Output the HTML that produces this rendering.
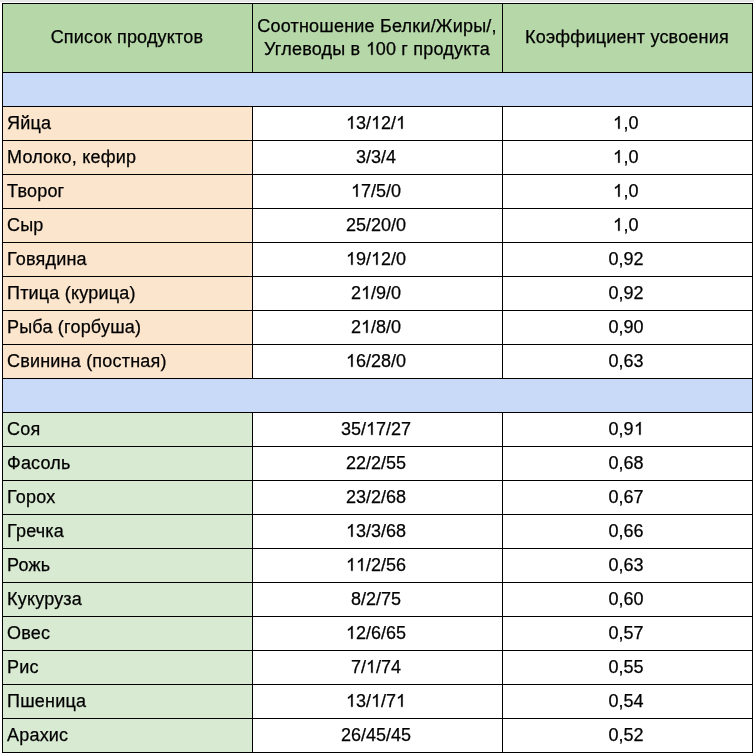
<!DOCTYPE html>
<html><head><meta charset="utf-8"><style>
html,body{margin:0;padding:0;background:#fff;}
body{width:754px;height:754px;position:relative;overflow:hidden;font-family:"Liberation Sans",sans-serif;color:#000;}
.a{position:absolute;}
.h{position:absolute;height:1px;background:#000;}
.v{position:absolute;width:1px;background:#000;}
.t{position:absolute;font-size:18px;line-height:34px;height:34px;white-space:nowrap;letter-spacing:0.2px;will-change:transform;-webkit-text-stroke:0.25px #000;}
.c{text-align:center;width:250px;}
.n{letter-spacing:0;}
.n .d1{margin-right:0;}
.d1{display:inline-block;position:relative;width:0.5562em;height:0.7158em;margin-right:0.2px;}
.d1 svg{position:absolute;left:0;bottom:0;width:100%;height:100%;overflow:visible;}
</style></head><body>

<div class="a" style="left:0;top:0;width:754px;height:2px;background:#e6e6e9"></div>
<div class="a" style="left:2px;top:3px;width:750px;height:69px;background:#b6d7a8"></div>
<div class="a" style="left:2px;top:72px;width:750px;height:34px;background:#c9daf8"></div>
<div class="a" style="left:2px;top:106px;width:250px;height:34px;background:#fce5cd"></div>
<div class="a" style="left:2px;top:140px;width:250px;height:34px;background:#fce5cd"></div>
<div class="a" style="left:2px;top:174px;width:250px;height:34px;background:#fce5cd"></div>
<div class="a" style="left:2px;top:208px;width:250px;height:34px;background:#fce5cd"></div>
<div class="a" style="left:2px;top:242px;width:250px;height:34px;background:#fce5cd"></div>
<div class="a" style="left:2px;top:276px;width:250px;height:34px;background:#fce5cd"></div>
<div class="a" style="left:2px;top:310px;width:250px;height:34px;background:#fce5cd"></div>
<div class="a" style="left:2px;top:344px;width:250px;height:34px;background:#fce5cd"></div>
<div class="a" style="left:2px;top:378px;width:750px;height:34px;background:#c9daf8"></div>
<div class="a" style="left:2px;top:412px;width:250px;height:34px;background:#d9ead3"></div>
<div class="a" style="left:2px;top:446px;width:250px;height:34px;background:#d9ead3"></div>
<div class="a" style="left:2px;top:480px;width:250px;height:34px;background:#d9ead3"></div>
<div class="a" style="left:2px;top:514px;width:250px;height:34px;background:#d9ead3"></div>
<div class="a" style="left:2px;top:548px;width:250px;height:34px;background:#d9ead3"></div>
<div class="a" style="left:2px;top:582px;width:250px;height:34px;background:#d9ead3"></div>
<div class="a" style="left:2px;top:616px;width:250px;height:34px;background:#d9ead3"></div>
<div class="a" style="left:2px;top:650px;width:250px;height:34px;background:#d9ead3"></div>
<div class="a" style="left:2px;top:684px;width:250px;height:34px;background:#d9ead3"></div>
<div class="a" style="left:2px;top:718px;width:250px;height:34px;background:#d9ead3"></div>
<div class="h" style="left:2px;top:3px;width:751px"></div>
<div class="h" style="left:2px;top:72px;width:751px"></div>
<div class="h" style="left:2px;top:106px;width:751px"></div>
<div class="h" style="left:2px;top:140px;width:751px"></div>
<div class="h" style="left:2px;top:174px;width:751px"></div>
<div class="h" style="left:2px;top:208px;width:751px"></div>
<div class="h" style="left:2px;top:242px;width:751px"></div>
<div class="h" style="left:2px;top:276px;width:751px"></div>
<div class="h" style="left:2px;top:310px;width:751px"></div>
<div class="h" style="left:2px;top:344px;width:751px"></div>
<div class="h" style="left:2px;top:378px;width:751px"></div>
<div class="h" style="left:2px;top:412px;width:751px"></div>
<div class="h" style="left:2px;top:446px;width:751px"></div>
<div class="h" style="left:2px;top:480px;width:751px"></div>
<div class="h" style="left:2px;top:514px;width:751px"></div>
<div class="h" style="left:2px;top:548px;width:751px"></div>
<div class="h" style="left:2px;top:582px;width:751px"></div>
<div class="h" style="left:2px;top:616px;width:751px"></div>
<div class="h" style="left:2px;top:650px;width:751px"></div>
<div class="h" style="left:2px;top:684px;width:751px"></div>
<div class="h" style="left:2px;top:718px;width:751px"></div>
<div class="h" style="left:2px;top:752px;width:751px"></div>
<div class="v" style="left:2px;top:3px;height:750px"></div>
<div class="v" style="left:752px;top:3px;height:750px"></div>
<div class="v" style="left:252px;top:3px;height:70px"></div>
<div class="v" style="left:252px;top:106px;height:273px"></div>
<div class="v" style="left:252px;top:412px;height:341px"></div>
<div class="v" style="left:502px;top:3px;height:70px"></div>
<div class="v" style="left:502px;top:106px;height:273px"></div>
<div class="v" style="left:502px;top:412px;height:341px"></div>
<div class="t c" style="left:2px;top:20px">Список продуктов</div>
<div class="t c" style="left:252px;top:14.5px;line-height:23px;height:46px;white-space:normal">Соотношение Белки/Жиры/,<br>Углеводы в <span class="d1"><svg viewBox="0 -1466 1139 1466"><path d="M763 0L583 0L583 -1147C540 -1106 483 -1064 413 -1023C343 -982 280 -952 223 -932L223 -1106C323 -1153 410 -1210 485 -1277C560 -1344 613 -1407 644 -1466L763 -1466Z" fill="#000" stroke="#000" stroke-width="28"/></svg></span>00 г продукта</div>
<div class="t c" style="left:502px;top:20px">Коэффициент усвоения</div>
<div class="t" style="left:7px;top:106px">Яйца</div>
<div class="t c n" style="left:251px;top:106px"><span class="d1"><svg viewBox="0 -1466 1139 1466"><path d="M763 0L583 0L583 -1147C540 -1106 483 -1064 413 -1023C343 -982 280 -952 223 -932L223 -1106C323 -1153 410 -1210 485 -1277C560 -1344 613 -1407 644 -1466L763 -1466Z" fill="#000" stroke="#000" stroke-width="28"/></svg></span>3/<span class="d1"><svg viewBox="0 -1466 1139 1466"><path d="M763 0L583 0L583 -1147C540 -1106 483 -1064 413 -1023C343 -982 280 -952 223 -932L223 -1106C323 -1153 410 -1210 485 -1277C560 -1344 613 -1407 644 -1466L763 -1466Z" fill="#000" stroke="#000" stroke-width="28"/></svg></span>2/<span class="d1"><svg viewBox="0 -1466 1139 1466"><path d="M763 0L583 0L583 -1147C540 -1106 483 -1064 413 -1023C343 -982 280 -952 223 -932L223 -1106C323 -1153 410 -1210 485 -1277C560 -1344 613 -1407 644 -1466L763 -1466Z" fill="#000" stroke="#000" stroke-width="28"/></svg></span></div>
<div class="t c n" style="left:501px;top:106px"><span class="d1"><svg viewBox="0 -1466 1139 1466"><path d="M763 0L583 0L583 -1147C540 -1106 483 -1064 413 -1023C343 -982 280 -952 223 -932L223 -1106C323 -1153 410 -1210 485 -1277C560 -1344 613 -1407 644 -1466L763 -1466Z" fill="#000" stroke="#000" stroke-width="28"/></svg></span>,0</div>
<div class="t" style="left:7px;top:140px">Молоко, кефир</div>
<div class="t c n" style="left:251px;top:140px">3/3/4</div>
<div class="t c n" style="left:501px;top:140px"><span class="d1"><svg viewBox="0 -1466 1139 1466"><path d="M763 0L583 0L583 -1147C540 -1106 483 -1064 413 -1023C343 -982 280 -952 223 -932L223 -1106C323 -1153 410 -1210 485 -1277C560 -1344 613 -1407 644 -1466L763 -1466Z" fill="#000" stroke="#000" stroke-width="28"/></svg></span>,0</div>
<div class="t" style="left:7px;top:174px">Творог</div>
<div class="t c n" style="left:251px;top:174px"><span class="d1"><svg viewBox="0 -1466 1139 1466"><path d="M763 0L583 0L583 -1147C540 -1106 483 -1064 413 -1023C343 -982 280 -952 223 -932L223 -1106C323 -1153 410 -1210 485 -1277C560 -1344 613 -1407 644 -1466L763 -1466Z" fill="#000" stroke="#000" stroke-width="28"/></svg></span>7/5/0</div>
<div class="t c n" style="left:501px;top:174px"><span class="d1"><svg viewBox="0 -1466 1139 1466"><path d="M763 0L583 0L583 -1147C540 -1106 483 -1064 413 -1023C343 -982 280 -952 223 -932L223 -1106C323 -1153 410 -1210 485 -1277C560 -1344 613 -1407 644 -1466L763 -1466Z" fill="#000" stroke="#000" stroke-width="28"/></svg></span>,0</div>
<div class="t" style="left:7px;top:208px">Сыр</div>
<div class="t c n" style="left:251px;top:208px">25/20/0</div>
<div class="t c n" style="left:501px;top:208px"><span class="d1"><svg viewBox="0 -1466 1139 1466"><path d="M763 0L583 0L583 -1147C540 -1106 483 -1064 413 -1023C343 -982 280 -952 223 -932L223 -1106C323 -1153 410 -1210 485 -1277C560 -1344 613 -1407 644 -1466L763 -1466Z" fill="#000" stroke="#000" stroke-width="28"/></svg></span>,0</div>
<div class="t" style="left:7px;top:242px">Говядина</div>
<div class="t c n" style="left:251px;top:242px"><span class="d1"><svg viewBox="0 -1466 1139 1466"><path d="M763 0L583 0L583 -1147C540 -1106 483 -1064 413 -1023C343 -982 280 -952 223 -932L223 -1106C323 -1153 410 -1210 485 -1277C560 -1344 613 -1407 644 -1466L763 -1466Z" fill="#000" stroke="#000" stroke-width="28"/></svg></span>9/<span class="d1"><svg viewBox="0 -1466 1139 1466"><path d="M763 0L583 0L583 -1147C540 -1106 483 -1064 413 -1023C343 -982 280 -952 223 -932L223 -1106C323 -1153 410 -1210 485 -1277C560 -1344 613 -1407 644 -1466L763 -1466Z" fill="#000" stroke="#000" stroke-width="28"/></svg></span>2/0</div>
<div class="t c n" style="left:501px;top:242px">0,92</div>
<div class="t" style="left:7px;top:276px">Птица (курица)</div>
<div class="t c n" style="left:251px;top:276px">2<span class="d1"><svg viewBox="0 -1466 1139 1466"><path d="M763 0L583 0L583 -1147C540 -1106 483 -1064 413 -1023C343 -982 280 -952 223 -932L223 -1106C323 -1153 410 -1210 485 -1277C560 -1344 613 -1407 644 -1466L763 -1466Z" fill="#000" stroke="#000" stroke-width="28"/></svg></span>/9/0</div>
<div class="t c n" style="left:501px;top:276px">0,92</div>
<div class="t" style="left:7px;top:310px">Рыба (горбуша)</div>
<div class="t c n" style="left:251px;top:310px">2<span class="d1"><svg viewBox="0 -1466 1139 1466"><path d="M763 0L583 0L583 -1147C540 -1106 483 -1064 413 -1023C343 -982 280 -952 223 -932L223 -1106C323 -1153 410 -1210 485 -1277C560 -1344 613 -1407 644 -1466L763 -1466Z" fill="#000" stroke="#000" stroke-width="28"/></svg></span>/8/0</div>
<div class="t c n" style="left:501px;top:310px">0,90</div>
<div class="t" style="left:7px;top:344px">Свинина (постная)</div>
<div class="t c n" style="left:251px;top:344px"><span class="d1"><svg viewBox="0 -1466 1139 1466"><path d="M763 0L583 0L583 -1147C540 -1106 483 -1064 413 -1023C343 -982 280 -952 223 -932L223 -1106C323 -1153 410 -1210 485 -1277C560 -1344 613 -1407 644 -1466L763 -1466Z" fill="#000" stroke="#000" stroke-width="28"/></svg></span>6/28/0</div>
<div class="t c n" style="left:501px;top:344px">0,63</div>
<div class="t" style="left:7px;top:412px">Соя</div>
<div class="t c n" style="left:251px;top:412px">35/<span class="d1"><svg viewBox="0 -1466 1139 1466"><path d="M763 0L583 0L583 -1147C540 -1106 483 -1064 413 -1023C343 -982 280 -952 223 -932L223 -1106C323 -1153 410 -1210 485 -1277C560 -1344 613 -1407 644 -1466L763 -1466Z" fill="#000" stroke="#000" stroke-width="28"/></svg></span>7/27</div>
<div class="t c n" style="left:501px;top:412px">0,9<span class="d1"><svg viewBox="0 -1466 1139 1466"><path d="M763 0L583 0L583 -1147C540 -1106 483 -1064 413 -1023C343 -982 280 -952 223 -932L223 -1106C323 -1153 410 -1210 485 -1277C560 -1344 613 -1407 644 -1466L763 -1466Z" fill="#000" stroke="#000" stroke-width="28"/></svg></span></div>
<div class="t" style="left:7px;top:446px">Фасоль</div>
<div class="t c n" style="left:251px;top:446px">22/2/55</div>
<div class="t c n" style="left:501px;top:446px">0,68</div>
<div class="t" style="left:7px;top:480px">Горох</div>
<div class="t c n" style="left:251px;top:480px">23/2/68</div>
<div class="t c n" style="left:501px;top:480px">0,67</div>
<div class="t" style="left:7px;top:514px">Гречка</div>
<div class="t c n" style="left:251px;top:514px"><span class="d1"><svg viewBox="0 -1466 1139 1466"><path d="M763 0L583 0L583 -1147C540 -1106 483 -1064 413 -1023C343 -982 280 -952 223 -932L223 -1106C323 -1153 410 -1210 485 -1277C560 -1344 613 -1407 644 -1466L763 -1466Z" fill="#000" stroke="#000" stroke-width="28"/></svg></span>3/3/68</div>
<div class="t c n" style="left:501px;top:514px">0,66</div>
<div class="t" style="left:7px;top:548px">Рожь</div>
<div class="t c n" style="left:251px;top:548px"><span class="d1"><svg viewBox="0 -1466 1139 1466"><path d="M763 0L583 0L583 -1147C540 -1106 483 -1064 413 -1023C343 -982 280 -952 223 -932L223 -1106C323 -1153 410 -1210 485 -1277C560 -1344 613 -1407 644 -1466L763 -1466Z" fill="#000" stroke="#000" stroke-width="28"/></svg></span><span class="d1"><svg viewBox="0 -1466 1139 1466"><path d="M763 0L583 0L583 -1147C540 -1106 483 -1064 413 -1023C343 -982 280 -952 223 -932L223 -1106C323 -1153 410 -1210 485 -1277C560 -1344 613 -1407 644 -1466L763 -1466Z" fill="#000" stroke="#000" stroke-width="28"/></svg></span>/2/56</div>
<div class="t c n" style="left:501px;top:548px">0,63</div>
<div class="t" style="left:7px;top:582px">Кукуруза</div>
<div class="t c n" style="left:251px;top:582px">8/2/75</div>
<div class="t c n" style="left:501px;top:582px">0,60</div>
<div class="t" style="left:7px;top:616px">Овес</div>
<div class="t c n" style="left:251px;top:616px"><span class="d1"><svg viewBox="0 -1466 1139 1466"><path d="M763 0L583 0L583 -1147C540 -1106 483 -1064 413 -1023C343 -982 280 -952 223 -932L223 -1106C323 -1153 410 -1210 485 -1277C560 -1344 613 -1407 644 -1466L763 -1466Z" fill="#000" stroke="#000" stroke-width="28"/></svg></span>2/6/65</div>
<div class="t c n" style="left:501px;top:616px">0,57</div>
<div class="t" style="left:7px;top:650px">Рис</div>
<div class="t c n" style="left:251px;top:650px">7/<span class="d1"><svg viewBox="0 -1466 1139 1466"><path d="M763 0L583 0L583 -1147C540 -1106 483 -1064 413 -1023C343 -982 280 -952 223 -932L223 -1106C323 -1153 410 -1210 485 -1277C560 -1344 613 -1407 644 -1466L763 -1466Z" fill="#000" stroke="#000" stroke-width="28"/></svg></span>/74</div>
<div class="t c n" style="left:501px;top:650px">0,55</div>
<div class="t" style="left:7px;top:684px">Пшеница</div>
<div class="t c n" style="left:251px;top:684px"><span class="d1"><svg viewBox="0 -1466 1139 1466"><path d="M763 0L583 0L583 -1147C540 -1106 483 -1064 413 -1023C343 -982 280 -952 223 -932L223 -1106C323 -1153 410 -1210 485 -1277C560 -1344 613 -1407 644 -1466L763 -1466Z" fill="#000" stroke="#000" stroke-width="28"/></svg></span>3/<span class="d1"><svg viewBox="0 -1466 1139 1466"><path d="M763 0L583 0L583 -1147C540 -1106 483 -1064 413 -1023C343 -982 280 -952 223 -932L223 -1106C323 -1153 410 -1210 485 -1277C560 -1344 613 -1407 644 -1466L763 -1466Z" fill="#000" stroke="#000" stroke-width="28"/></svg></span>/7<span class="d1"><svg viewBox="0 -1466 1139 1466"><path d="M763 0L583 0L583 -1147C540 -1106 483 -1064 413 -1023C343 -982 280 -952 223 -932L223 -1106C323 -1153 410 -1210 485 -1277C560 -1344 613 -1407 644 -1466L763 -1466Z" fill="#000" stroke="#000" stroke-width="28"/></svg></span></div>
<div class="t c n" style="left:501px;top:684px">0,54</div>
<div class="t" style="left:7px;top:718px">Арахис</div>
<div class="t c n" style="left:251px;top:718px">26/45/45</div>
<div class="t c n" style="left:501px;top:718px">0,52</div>
</body></html>
